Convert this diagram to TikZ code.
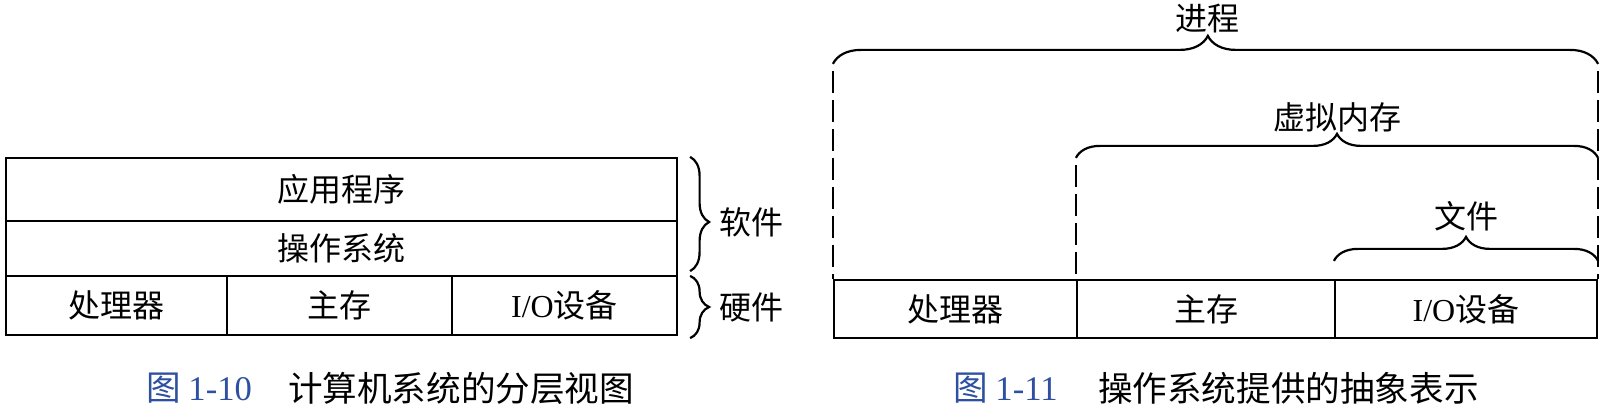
\documentclass[tikz,border=0pt]{standalone}
\usepackage{fontspec}
\setmainfont{Liberation Serif}
\newfontfamily\cjk{Noto Sans CJK SC}
\usetikzlibrary{decorations.pathreplacing}
\definecolor{figblue}{RGB}{45,80,160}

\begin{document}
\begin{tikzpicture}[x=0.5pt, y=-0.5pt, line width=1.1pt,
		cell/.style={draw, rectangle, inner sep=0pt, font=\fontsize{16}{18}\selectfont\cjk},
		brace/.style={decorate, decoration={brace, amplitude=#1}},
		brace/.default=12pt,
		dashline/.style={dash pattern=on 11pt off 3.5pt, dash phase=11pt, line width=1pt},
		lbl/.style={inner sep=0pt, font=\fontsize{16}{18}\selectfont\cjk},
		captext/.style={inner sep=0pt, anchor=west, font=\fontsize{17.3}{19}\selectfont\cjk}]
		\useasboundingbox (0,0) rectangle (1606,411);
		
		% layered view
		\node[cell, minimum width=335.5pt, minimum height=31.5pt] (app) at (341.5,189.5) {应用程序};
		\node[cell, minimum width=335.5pt, minimum height=27.5pt] (os) at (341.5,248.5) {操作系统};
		\node[cell, minimum width=110.5pt, minimum height=29.5pt] (cpu) at (116.5,305.5) {处理器};
		\node[cell, minimum width=112.5pt, minimum height=29.5pt] (mem) at (339.5,305.5) {主存};
		\node[cell, minimum width=112.5pt, minimum height=29.5pt] (io) at (564.5,305.5) {{\rmfamily I/O}设备};
		
		\draw[brace=9.5pt, decoration={aspect=0.57}] ([xshift=6pt]app.north east) -- ([xshift=6pt,yshift=3pt]os.south east)
			node[lbl, pos=0.57, anchor=west, xshift=14pt] (sw) {软件};
		\draw[brace=9.5pt] ([xshift=6pt,yshift=-0.5pt]io.north east) -- ([xshift=6pt,yshift=-1pt]io.south east)
			node[lbl, midway, anchor=west, xshift=14pt] (hw) {硬件};
		
		% abstractions
		\node[cell, minimum width=121.5pt, minimum height=29pt] (cpu2) at (955.5,309) {处理器};
		\node[cell, minimum width=129pt, minimum height=29pt] (mem2) at (1206,309) {主存};
		\node[cell, minimum width=131pt, minimum height=29pt] (io2) at (1466,309) {{\rmfamily I/O}设备};
		
		\coordinate (p1) at ([yshift=107.5pt]cpu2.north west);
		\coordinate (p2) at ([yshift=107.5pt]io2.north east);
		\coordinate (v1) at ([yshift=60.5pt]mem2.north west);
		\coordinate (v2) at ([yshift=60.5pt]io2.north east);
		\coordinate (f1) at ([yshift=9pt]io2.north west);
		\coordinate (f2) at ([yshift=9pt]io2.north east);
		
		\draw[dashline] (p1) -- (cpu2.north west);
		\draw[dashline] (p2) -- (io2.north east);
		\draw[dashline] (v1) -- (mem2.north west);
		
		\draw[brace=14pt, decoration={aspect=0.49}] (p1) -- (p2) node[lbl, pos=0.49, yshift=22.5pt] (proc) {进程};
		\draw[brace] (v1) -- (v2) node[lbl, midway, yshift=20.5pt] (vm) {虚拟内存};
		\draw[brace] (f1) -- (f2) node[lbl, midway, yshift=22.5pt] (file) {文件};
		
		% captions
		\node[captext, text=figblue] (cap1n) at (145,388) {图 {\rmfamily 1-10}};
		\node[captext] (cap1) at (287,388) {计算机系统的分层视图};
		\node[captext, text=figblue] (cap2n) at (952,388) {图 {\rmfamily 1-11}};
		\node[captext] (cap2) at (1097,388) {操作系统提供的抽象表示};
	\end{tikzpicture}
\end{document}
